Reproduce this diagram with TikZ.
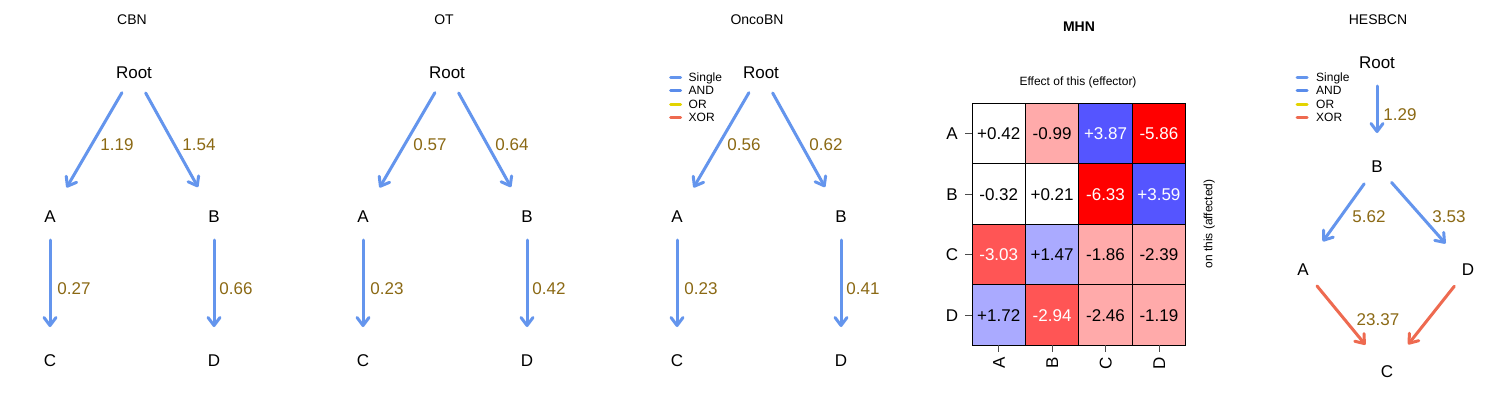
\documentclass[tikz,border=0pt]{standalone}
\usepackage{fontspec}
\setmainfont{Liberation Sans}
\usetikzlibrary{arrows.meta}
\definecolor{cSingle}{HTML}{6495ED}
\definecolor{cAND}{HTML}{5A8CEB}
\definecolor{cOR}{HTML}{E3D400}
\definecolor{cXOR}{HTML}{EE6A50}
\definecolor{lblc}{HTML}{8B6914}
\definecolor{hW}{HTML}{FFFFFF}
\definecolor{hLR}{HTML}{FFAAAA}
\definecolor{hMR}{HTML}{FF5555}
\definecolor{hR}{HTML}{FF0000}
\definecolor{hLB}{HTML}{AAAAFF}
\definecolor{hB}{HTML}{5555FF}
\tikzset{
  lab/.style={font=\fontsize{17}{20}\selectfont, text height=12.2pt, text depth=0pt, inner sep=0pt},
  elab/.style={lab, text=lblc},
  ttl/.style={font=\fontsize{14}{16}\selectfont, text height=10pt, text depth=0pt, inner sep=0pt},
  small/.style={font=\fontsize{12}{14}\selectfont, text height=8.6pt, text depth=0pt, inner sep=0pt},
  arr/.style={line width=3pt, line cap=round, -{Straight Barb[length=8pt,width=12pt,round]}},
  tedge/.style={arr, draw=cSingle, shorten <=24pt, shorten >=33pt},
  xedge/.style={arr, draw=cXOR, shorten <=24pt, shorten >=33pt},
  legline/.style={line width=3pt, line cap=round},
  cell/.style={draw=black, line width=0.8pt, minimum width=53.4pt, minimum height=60.5pt, inner sep=0pt, outer sep=0pt, anchor=center, font=\fontsize{17}{20}\selectfont, text height=12.2pt, text depth=0pt},
  tick/.style={draw=black!70, line width=0.8pt}
}
\newcommand\mytree[6]{%
  \begin{scope}[xshift=#2]
    \node[lab] (#1root) at (134,72) {Root};
    \node[lab] (#1A) at (50,216) {A};
    \node[lab] (#1B) at (214,216) {B};
    \node[lab] (#1C) at (50,360) {C};
    \node[lab] (#1D) at (214,360) {D};
    \draw[tedge] (#1root.center) -- (#1A.center);
    \draw[tedge] (#1root.center) -- (#1B.center);
    \draw[tedge] (#1A.center) -- (#1C.center);
    \draw[tedge] (#1B.center) -- (#1D.center);
    \node[elab] (#1lRA) at (117,144) {#3};
    \node[elab] (#1lRB) at (199,144) {#4};
    \node[elab] (#1lAC) at (74,288) {#5};
    \node[elab] (#1lBD) at (236,288) {#6};
  \end{scope}}
\newcommand\mylegend[3]{%
  \begin{scope}[xshift=#1]
    \coordinate (#2s1) at (0,77.5); \coordinate (#2e1) at (10,77.5);
    \coordinate (#2s2) at (0,90.8); \coordinate (#2e2) at (10,90.8);
    \coordinate (#2s3) at (0,104.2); \coordinate (#2e3) at (10,104.2);
    \coordinate (#2s4) at (0,117.5); \coordinate (#2e4) at (10,117.5);
    \draw[legline, cSingle] (#2s1) -- (#2e1);
    \draw[legline, cAND] (#2s2) -- (#2e2);
    \draw[legline, cOR] (#2s3) -- (#2e3);
    \draw[legline, cXOR] (#2s4) -- (#2e4);
    \node[small, anchor=west] (#2t1) at (#3,77) {Single};
    \node[small, anchor=west] (#2t2) at (#3,90.5) {AND};
    \node[small, anchor=west] (#2t3) at (#3,104) {OR};
    \node[small, anchor=west] (#2t4) at (#3,117.5) {XOR};
  \end{scope}}
\begin{document}
\begin{tikzpicture}[x=1pt,y=-1pt]
\useasboundingbox (0,0) rectangle (1485,404);
\fill[white] (0,0) rectangle (1485,404);
% titles
\node[ttl] (tCBN) at (132,20) {CBN};
\node[ttl] (tOT) at (444,20) {OT};
\node[ttl] (tOnco) at (757,20) {OncoBN};
\node[ttl, font=\fontsize{14}{16}\selectfont\bfseries] (tMHN) at (1079,27) {MHN};
\node[ttl] (tHES) at (1378,20) {HESBCN};
% trees
\mytree{cbn}{0pt}{1.19}{1.54}{0.27}{0.66}
\mytree{ot}{313pt}{0.57}{0.64}{0.23}{0.42}
\mytree{onc}{627pt}{0.56}{0.62}{0.23}{0.41}
\mylegend{670.5pt}{ol}{18}
% HESBCN
\mylegend{1297pt}{hl}{19}
\node[lab] (hRoot) at (1377,62) {Root};
\node[lab] (hB) at (1377,166) {B};
\node[lab] (hA) at (1303,269) {A};
\node[lab] (hD) at (1468,269) {D};
\node[lab] (hC) at (1387,371) {C};
\draw[tedge] (hRoot.center) -- (hB.center);
\draw[tedge, shorten <=22pt, shorten >=34pt] (hB.center) -- (hA.center);
\draw[tedge, shorten <=22pt, shorten >=34pt] (hB.center) -- (hD.center);
\draw[xedge, shorten <=22pt, shorten >=34pt] (hA.center) -- (hC.center);
\draw[xedge, shorten <=22pt, shorten >=34pt] (hD.center) -- (hC.center);
\node[elab] (hl1) at (1400,114) {1.29};
\node[elab] (hl2) at (1369,216) {5.62};
\node[elab] (hl3) at (1449,216) {3.53};
\node[elab] (hl4) at (1378,319) {23.37};
% MHN heatmap
\node[small] (effector) at (1078,81) {Effect of this (effector)};
\node[small, rotate=90] (affected) at (1208,224) {on this (affected)};
% row A
\node[cell, fill=hW] (mAA) at (998.7,133.6) {+0.42};
\node[cell, fill=hLR] (mAB) at (1052.1,133.6) {-0.99};
\node[cell, fill=hB, text=white] (mAC) at (1105.5,133.6) {+3.87};
\node[cell, fill=hR, text=white] (mAD) at (1158.9,133.6) {-5.86};
% row B
\node[cell, fill=hW] (mBA) at (998.7,194.1) {-0.32};
\node[cell, fill=hW] (mBB) at (1052.1,194.1) {+0.21};
\node[cell, fill=hR, text=white] (mBC) at (1105.5,194.1) {-6.33};
\node[cell, fill=hB, text=white] (mBD) at (1158.9,194.1) {+3.59};
% row C
\node[cell, fill=hMR, text=white] (mCA) at (998.7,254.6) {-3.03};
\node[cell, fill=hLB] (mCB) at (1052.1,254.6) {+1.47};
\node[cell, fill=hLR] (mCC) at (1105.5,254.6) {-1.86};
\node[cell, fill=hLR] (mCD) at (1158.9,254.6) {-2.39};
% row D
\node[cell, fill=hLB] (mDA) at (998.7,315.1) {+1.72};
\node[cell, fill=hMR, text=white] (mDB) at (1052.1,315.1) {-2.94};
\node[cell, fill=hLR] (mDC) at (1105.5,315.1) {-2.46};
\node[cell, fill=hLR] (mDD) at (1158.9,315.1) {-1.19};
\draw[line width=0.8pt] (mAA.north west) rectangle (mDD.south east);
% row labels and ticks
\foreach \r/\y in {A/133.6,B/194.1,C/254.6,D/315.1}{
  \node[lab] (rl\r) at (952,\y) {\r};
  \draw[tick] (965,\y) -- (972,\y);
}
\foreach \c/\x in {A/998.7,B/1052.1,C/1105.5,D/1158.9}{
  \node[lab, rotate=90] (cl\c) at (\x,363) {\c};
  \draw[tick] (\x,345) -- (\x,352);
}
\end{tikzpicture}
\end{document}
